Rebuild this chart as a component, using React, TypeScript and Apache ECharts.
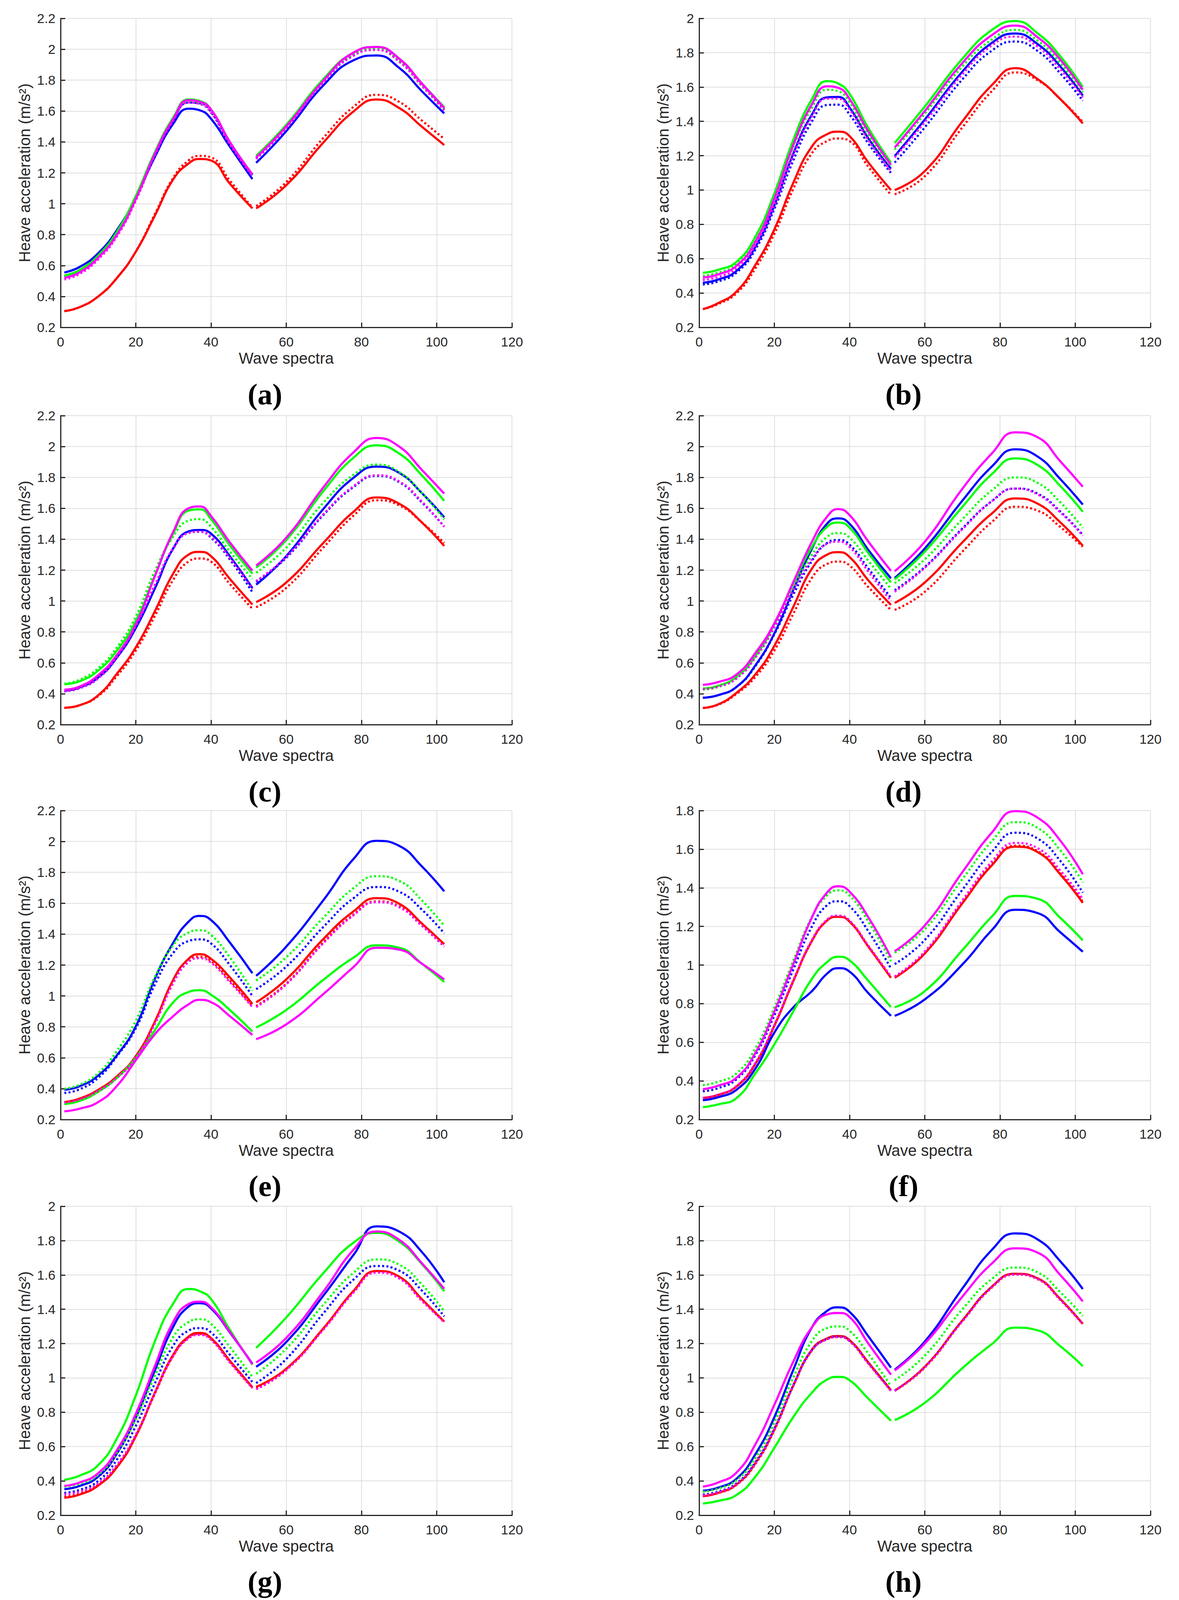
import React, { useEffect, useRef } from "react";
import * as echarts from "echarts";

// x positions (wave spectra index) where values were read, for the two segments
const X1 = [1, 5, 10, 15, 20, 25, 30, 34, 37, 40, 45, 51];
const X2 = [52, 60, 70, 78, 84, 90, 96, 102];

const LABELS = ["a", "b", "c", "d", "e", "f", "g", "h"];
const Y_MAX = [2.2, 2.0, 2.2, 2.2, 2.2, 1.8, 2.0, 2.0];
const Y_MIN = 0.2;
const Y_STEP = 0.2;
const X_MIN = 0;
const X_MAX = 120;
const X_STEP = 20;

// Panel (a)
const aRS = [[.305, .33, .40, .52, .69, .92, 1.16, 1.26, 1.29, 1.28, 1.13, .97], [.97, 1.12, 1.40, 1.60, 1.675, 1.62, 1.50, 1.38]];
const aRD = [[.305, .33, .40, .52, .69, .93, 1.17, 1.28, 1.31, 1.30, 1.15, .975], [.985, 1.14, 1.43, 1.63, 1.705, 1.66, 1.54, 1.42]];
const aBS = [[.555, .59, .68, .83, 1.04, 1.30, 1.52, 1.615, 1.605, 1.55, 1.37, 1.16], [1.265, 1.47, 1.77, 1.93, 1.96, 1.88, 1.73, 1.585]];
const aBD = [[.525, .56, .655, .81, 1.035, 1.315, 1.545, 1.655, 1.65, 1.595, 1.39, 1.185], [1.295, 1.495, 1.795, 1.965, 2.0, 1.925, 1.77, 1.61]];
const aGS = [[.535, .57, .665, .82, 1.05, 1.33, 1.56, 1.675, 1.665, 1.61, 1.40, 1.19], [1.31, 1.51, 1.81, 1.98, 2.015, 1.94, 1.78, 1.625]];
const aGD = [[.53, .565, .66, .815, 1.04, 1.32, 1.55, 1.665, 1.655, 1.60, 1.39, 1.185], [1.30, 1.50, 1.80, 1.97, 2.005, 1.93, 1.77, 1.615]];
const aMS = [[.52, .555, .65, .80, 1.03, 1.32, 1.55, 1.67, 1.66, 1.61, 1.40, 1.19], [1.30, 1.50, 1.80, 1.98, 2.015, 1.94, 1.78, 1.62]];
const aMD = [[.51, .545, .64, .79, 1.02, 1.31, 1.54, 1.655, 1.645, 1.59, 1.385, 1.18], [1.29, 1.49, 1.79, 1.96, 1.995, 1.92, 1.765, 1.605]];

// Panel (b)
const bRS = [[.306, .34, .41, .565, .77, 1.04, 1.254, 1.325, 1.34, 1.314, 1.16, 1.0], [1.0, 1.11, 1.40, 1.615, 1.71, 1.646, 1.53, 1.388]];
const bRD = [[.306, .335, .40, .545, .745, 1.005, 1.215, 1.285, 1.30, 1.285, 1.135, .972], [.975, 1.08, 1.365, 1.58, 1.685, 1.64, 1.53, 1.397]];
const bBS = [[.46, .478, .53, .67, .91, 1.21, 1.44, 1.54, 1.542, 1.48, 1.30, 1.124], [1.198, 1.41, 1.69, 1.86, 1.912, 1.85, 1.72, 1.55]];
const bBD = [[.45, .467, .52, .655, .89, 1.17, 1.40, 1.495, 1.497, 1.44, 1.27, 1.10], [1.16, 1.365, 1.645, 1.815, 1.865, 1.81, 1.68, 1.52]];
const bGS = [[.518, .535, .583, .73, .98, 1.29, 1.53, 1.634, 1.62, 1.56, 1.36, 1.16], [1.274, 1.486, 1.765, 1.935, 1.984, 1.913, 1.78, 1.60]];
const bGD = [[.50, .518, .568, .705, .95, 1.25, 1.48, 1.584, 1.575, 1.51, 1.32, 1.14], [1.236, 1.445, 1.72, 1.88, 1.933, 1.87, 1.74, 1.57]];
const bMS = [[.49, .508, .56, .70, .95, 1.26, 1.50, 1.604, 1.595, 1.53, 1.34, 1.147], [1.248, 1.46, 1.74, 1.905, 1.958, 1.89, 1.76, 1.584]];
const bMD = [[.476, .493, .545, .68, .915, 1.20, 1.43, 1.533, 1.532, 1.47, 1.29, 1.11], [1.19, 1.395, 1.675, 1.845, 1.894, 1.835, 1.705, 1.54]];

// Panel (c)
const cRS = [[.309, .325, .39, .53, .70, .93, 1.18, 1.30, 1.318, 1.29, 1.143, .977], [.993, 1.12, 1.38, 1.58, 1.67, 1.63, 1.51, 1.356]];
const cRD = [[.309, .325, .385, .515, .68, .90, 1.14, 1.255, 1.275, 1.255, 1.11, .95], [.96, 1.085, 1.35, 1.555, 1.652, 1.62, 1.51, 1.376]];
const cBS = [[.42, .44, .505, .635, .825, 1.077, 1.343, 1.45, 1.46, 1.436, 1.29, 1.084], [1.106, 1.29, 1.60, 1.80, 1.87, 1.83, 1.70, 1.542]];
const cBD = [[.415, .435, .50, .635, .835, 1.09, 1.34, 1.44, 1.448, 1.41, 1.27, 1.057], [1.124, 1.28, 1.56, 1.74, 1.81, 1.77, 1.64, 1.482]];
const cGS = [[.462, .48, .55, .68, .87, 1.16, 1.44, 1.585, 1.593, 1.53, 1.36, 1.177], [1.217, 1.395, 1.715, 1.93, 2.008, 1.955, 1.815, 1.648]];
const cGD = [[.465, .49, .565, .70, .90, 1.19, 1.42, 1.52, 1.53, 1.48, 1.32, 1.143], [1.183, 1.345, 1.64, 1.82, 1.883, 1.835, 1.70, 1.529]];
const cMS = [[.426, .446, .52, .652, .85, 1.157, 1.45, 1.60, 1.612, 1.55, 1.38, 1.197], [1.23, 1.41, 1.74, 1.965, 2.055, 2.0, 1.85, 1.695]];
const cMD = [[.415, .435, .50, .64, .84, 1.10, 1.345, 1.44, 1.449, 1.415, 1.28, 1.077], [1.13, 1.285, 1.565, 1.745, 1.814, 1.775, 1.645, 1.48]];

// Panel (d)
const dRS = [[.308, .33, .407, .526, .71, .96, 1.21, 1.30, 1.316, 1.285, 1.133, .975], [.988, 1.12, 1.38, 1.57, 1.664, 1.63, 1.51, 1.358]];
const dRD = [[.308, .328, .40, .51, .68, .915, 1.15, 1.24, 1.255, 1.23, 1.09, .942], [.942, 1.06, 1.32, 1.515, 1.61, 1.585, 1.48, 1.351]];
const dBS = [[.374, .39, .445, .585, .79, 1.07, 1.34, 1.50, 1.535, 1.50, 1.33, 1.147], [1.149, 1.34, 1.65, 1.875, 1.982, 1.935, 1.79, 1.624]];
const dBD = [[.374, .39, .445, .58, .785, 1.04, 1.26, 1.375, 1.395, 1.365, 1.21, 1.02], [1.07, 1.22, 1.47, 1.65, 1.728, 1.695, 1.58, 1.428]];
const dGS = [[.434, .45, .51, .645, .85, 1.11, 1.35, 1.48, 1.508, 1.475, 1.31, 1.12], [1.14, 1.32, 1.61, 1.825, 1.923, 1.88, 1.745, 1.578]];
const dGD = [[.427, .443, .50, .635, .83, 1.08, 1.30, 1.415, 1.44, 1.41, 1.26, 1.08], [1.116, 1.27, 1.53, 1.72, 1.80, 1.765, 1.64, 1.474]];
const dMS = [[.457, .475, .526, .665, .856, 1.12, 1.384, 1.545, 1.595, 1.556, 1.384, 1.195], [1.193, 1.384, 1.727, 1.96, 2.092, 2.06, 1.905, 1.74]];
const dMD = [[.43, .445, .50, .635, .83, 1.07, 1.27, 1.37, 1.384, 1.35, 1.19, 1.0], [1.06, 1.215, 1.465, 1.65, 1.728, 1.69, 1.575, 1.424]];

// Panel (e)
const eRS = [[.313, .335, .392, .48, .61, .83, 1.107, 1.24, 1.27, 1.24, 1.12, .948], [.959, 1.107, 1.372, 1.55, 1.633, 1.597, 1.47, 1.335]];
const eRD = [[.31, .33, .385, .47, .60, .82, 1.09, 1.225, 1.253, 1.225, 1.10, .935], [.935, 1.08, 1.35, 1.53, 1.612, 1.58, 1.46, 1.326]];
const eBS = [[.392, .415, .485, .617, .803, 1.107, 1.346, 1.48, 1.518, 1.491, 1.346, 1.147], [1.13, 1.319, 1.624, 1.89, 2.004, 1.972, 1.84, 1.677]];
const eBD = [[.372, .395, .47, .61, .79, 1.07, 1.28, 1.355, 1.366, 1.34, 1.20, 1.0], [1.044, 1.19, 1.45, 1.635, 1.705, 1.675, 1.56, 1.405]];
const eGS = [[.30, .32, .38, .47, .60, .776, .96, 1.025, 1.037, 1.008, .909, .77], [.796, .909, 1.107, 1.25, 1.328, 1.312, 1.21, 1.09]];
const eGD = [[.399, .425, .50, .645, .84, 1.12, 1.33, 1.41, 1.425, 1.395, 1.25, 1.034], [1.10, 1.25, 1.51, 1.70, 1.775, 1.745, 1.62, 1.454]];
const eMS = [[.253, .27, .313, .418, .584, .75, .87, .945, .975, .96, .869, .747], [.72, .816, 1.015, 1.19, 1.312, 1.30, 1.21, 1.107]];
const eMD = [[.31, .33, .385, .47, .60, .815, 1.085, 1.22, 1.244, 1.215, 1.09, .928], [.928, 1.075, 1.345, 1.525, 1.607, 1.575, 1.455, 1.319]];

// Panel (f)
const fRS = [[.312, .327, .372, .49, .685, .915, 1.125, 1.23, 1.25, 1.225, 1.095, .934], [.934, 1.06, 1.32, 1.52, 1.613, 1.585, 1.47, 1.322]];
const fRD = [[.312, .327, .372, .49, .685, .915, 1.127, 1.232, 1.253, 1.228, 1.098, .936], [.936, 1.063, 1.325, 1.525, 1.618, 1.59, 1.475, 1.327]];
const fBS = [[.30, .315, .355, .465, .65, .78, .865, .955, .984, .966, .854, .737], [.737, .822, 1.003, 1.185, 1.286, 1.269, 1.17, 1.069]];
const fBD = [[.346, .362, .41, .535, .74, .975, 1.20, 1.31, 1.33, 1.305, 1.175, .982], [1.005, 1.13, 1.39, 1.59, 1.685, 1.655, 1.54, 1.375]];
const fGS = [[.264, .278, .312, .44, .589, .759, .929, 1.015, 1.043, 1.024, .918, .782], [.782, .865, 1.077, 1.255, 1.358, 1.343, 1.245, 1.128]];
const fGD = [[.378, .395, .44, .57, .78, 1.02, 1.25, 1.36, 1.387, 1.36, 1.225, 1.019], [1.064, 1.185, 1.445, 1.645, 1.74, 1.71, 1.595, 1.428]];
const fMS = [[.357, .375, .418, .546, .759, 1.003, 1.247, 1.375, 1.408, 1.38, 1.247, 1.04], [1.072, 1.205, 1.481, 1.69, 1.797, 1.763, 1.645, 1.47]];
const fMD = [[.312, .328, .375, .495, .69, .92, 1.13, 1.235, 1.256, 1.23, 1.10, .941], [.941, 1.07, 1.335, 1.54, 1.632, 1.605, 1.49, 1.343]];

// Panel (g)
const gRS = [[.302, .32, .373, .48, .66, .91, 1.137, 1.24, 1.262, 1.232, 1.10, .946], [.948, 1.053, 1.292, 1.51, 1.623, 1.59, 1.46, 1.328]];
const gRD = [[.307, .325, .377, .485, .662, .905, 1.13, 1.235, 1.256, 1.227, 1.095, .943], [.94, 1.048, 1.288, 1.505, 1.617, 1.585, 1.455, 1.326]];
const gBS = [[.352, .37, .425, .56, .77, 1.04, 1.30, 1.415, 1.435, 1.405, 1.265, 1.083], [1.065, 1.209, 1.483, 1.72, 1.883, 1.853, 1.735, 1.557]];
const gBD = [[.331, .347, .40, .525, .72, .965, 1.19, 1.275, 1.29, 1.265, 1.135, .976], [.97, 1.11, 1.38, 1.575, 1.652, 1.625, 1.51, 1.358]];
const gGS = [[.407, .43, .492, .648, .898, 1.209, 1.435, 1.518, 1.505, 1.459, 1.28, 1.077], [1.175, 1.352, 1.614, 1.79, 1.845, 1.794, 1.665, 1.505]];
const gGD = [[.367, .383, .435, .565, .76, 1.01, 1.24, 1.325, 1.342, 1.315, 1.18, 1.006], [1.024, 1.17, 1.43, 1.615, 1.69, 1.66, 1.545, 1.388]];
const gMS = [[.371, .39, .445, .58, .79, 1.065, 1.328, 1.43, 1.444, 1.412, 1.268, 1.08], [1.09, 1.233, 1.507, 1.75, 1.853, 1.805, 1.67, 1.519]];
const gMD = [[.32, .337, .385, .495, .67, .91, 1.13, 1.23, 1.25, 1.222, 1.09, .94], [.934, 1.045, 1.285, 1.50, 1.613, 1.58, 1.45, 1.325]];

// Panel (h)
const hRS = [[.311, .33, .38, .505, .70, .955, 1.165, 1.23, 1.244, 1.22, 1.09, .929], [.926, 1.065, 1.335, 1.535, 1.607, 1.58, 1.46, 1.315]];
const hRD = [[.311, .328, .378, .50, .695, .95, 1.16, 1.225, 1.238, 1.215, 1.085, .925], [.924, 1.06, 1.33, 1.53, 1.602, 1.575, 1.455, 1.312]];
const hBS = [[.343, .36, .414, .557, .771, 1.045, 1.295, 1.39, 1.411, 1.385, 1.242, 1.06], [1.048, 1.212, 1.521, 1.75, 1.842, 1.807, 1.68, 1.518]];
const hBD = [[.32, .337, .387, .51, .705, .955, 1.162, 1.226, 1.24, 1.215, 1.085, .926], [.927, 1.063, 1.332, 1.532, 1.604, 1.577, 1.457, 1.314]];
const hGS = [[.268, .283, .319, .426, .593, .771, .914, .99, 1.006, .986, .879, .75], [.754, .855, 1.057, 1.20, 1.293, 1.277, 1.185, 1.069]];
const hGD = [[.337, .355, .405, .535, .74, 1.00, 1.215, 1.29, 1.30, 1.275, 1.14, .952], [.986, 1.13, 1.40, 1.58, 1.643, 1.615, 1.50, 1.361]];
const hMS = [[.367, .39, .45, .615, .843, 1.093, 1.295, 1.37, 1.378, 1.355, 1.20, 1.019], [1.043, 1.20, 1.474, 1.67, 1.755, 1.73, 1.60, 1.446]];
const hMD = [[.315, .332, .382, .505, .70, .952, 1.16, 1.225, 1.238, 1.214, 1.083, .924], [.925, 1.062, 1.33, 1.53, 1.603, 1.576, 1.456, 1.313]];

const PANELS = [
  [aRS, aRD, aBS, aBD, aGS, aGD, aMS, aMD],
  [bRS, bRD, bBS, bBD, bGS, bGD, bMS, bMD],
  [cRS, cRD, cBS, cBD, cGS, cGD, cMS, cMD],
  [dRS, dRD, dBS, dBD, dGS, dGD, dMS, dMD],
  [eRS, eRD, eBS, eBD, eGS, eGD, eMS, eMD],
  [fRS, fRD, fBS, fBD, fGS, fGD, fMS, fMD],
  [gRS, gRD, gBS, gBD, gGS, gGD, gMS, gMD],
  [hRS, hRD, hBS, hBD, hGS, hGD, hMS, hMD],
];

const CURVE_COLORS = ["#ff0000", "#ff0000", "#0000ff", "#0000ff", "#00ff00", "#00ff00", "#ff00ff", "#ff00ff"];
const CURVE_DOTTED = [false, true, false, true, false, true, false, true];

// layout in reference pixels (3017 x 4746); vertical positions are scaled to the window height
const W = 3017;
const REF_H = 4746;
const GRID_LEFT = [155, 1789];
const GRID_TOP = [55, 1233, 2404, 3578];
const GRID_W = 1155;
const GRID_H = 917;
const LABEL_DX = 523;
const LABEL_DY = 1114;
const XNAME_CENTER = 92; // distance below the x axis line to "Wave spectra" centre
const XLABEL_TOP = 30; // distance below the x axis line to tick label glyph top

const AX = "#262626";
const GRIDC = "#dedede";
const SANS = "Liberation Sans, Arial, sans-serif";

function getScale() {
  const vh = window.innerHeight || REF_H;
  return Math.min(1, vh / REF_H);
}

export default function App() {
  const ref = useRef<HTMLDivElement>(null);
  const sy = getScale();
  useEffect(() => {
    document.body.style.margin = "0";
    const chart = echarts.init(ref.current!, null, { renderer: "svg" });
    const grid: any[] = [];
    const xAxis: any[] = [];
    const yAxis: any[] = [];
    const series: any[] = [];
    const graphic: any[] = [];
    const tickFont = 34;
    const nameFont = 40;
    PANELS.forEach((curves, p) => {
      const col = p % 2;
      const row = Math.floor(p / 2);
      const left = GRID_LEFT[col];
      const top = Math.round(GRID_TOP[row] * sy);
      const height = Math.round(GRID_H * sy);
      grid.push({ left, top, width: GRID_W, height, containLabel: false });
      xAxis.push({
        type: "value",
        gridIndex: p,
        min: X_MIN,
        max: X_MAX,
        interval: X_STEP,
        name: "Wave spectra",
        nameLocation: "middle",
        nameGap: Math.round(XNAME_CENTER * sy - nameFont / 2),
        nameTextStyle: { fontSize: nameFont, color: AX, fontFamily: SANS },
        axisLine: { show: true, onZero: false, lineStyle: { color: AX, width: 3 } },
        axisTick: { show: true, inside: true, length: 12, lineStyle: { color: AX, width: 3 } },
        axisLabel: { fontSize: tickFont, color: AX, fontFamily: SANS, margin: Math.round(XLABEL_TOP * sy - 6) },
        splitLine: { show: true, lineStyle: { color: GRIDC, width: 2 } },
      });
      yAxis.push({
        type: "value",
        gridIndex: p,
        min: Y_MIN,
        max: Y_MAX[p],
        interval: Y_STEP,
        name: "Heave acceleration (m/s²)",
        nameLocation: "middle",
        nameGap: 72,
        nameRotate: 90,
        nameTextStyle: { fontSize: nameFont, color: AX, fontFamily: SANS },
        axisLine: { show: true, onZero: false, lineStyle: { color: AX, width: 3 } },
        axisTick: { show: true, inside: true, length: 12, lineStyle: { color: AX, width: 3 } },
        axisLabel: {
          fontSize: tickFont,
          color: AX,
          fontFamily: SANS,
          margin: 13,
          formatter: (v: number) => String(Math.round(v * 10) / 10),
        },
        splitLine: { show: true, lineStyle: { color: GRIDC, width: 2 } },
      });
      curves.forEach((curve, c) => {
        [X1, X2].forEach((xs, s) => {
          series.push({
            type: "line",
            xAxisIndex: p,
            yAxisIndex: p,
            data: xs.map((x, i) => [x, curve[s][i]]),
            smooth: 0.5,
            showSymbol: false,
            symbol: "none",
            silent: true,
            z: 2 + c,
            lineStyle: {
              color: CURVE_COLORS[c],
              width: 5.5,
              type: CURVE_DOTTED[c] ? [5, 6] : "solid",
              cap: "butt",
            },
          });
        });
      });
      graphic.push({
        type: "text",
        x: left + LABEL_DX,
        y: Math.round((GRID_TOP[row] + LABEL_DY) * sy),
        style: {
          text: "(" + LABELS[p] + ")",
          fontSize: 76,
          fontFamily: "Liberation Serif, Times New Roman, serif",
          fontWeight: "bold",
          fill: "#000000",
          align: "center",
          verticalAlign: "middle",
        },
      });
    });
    chart.setOption({
      animation: false,
      backgroundColor: "#ffffff",
      grid,
      xAxis,
      yAxis,
      series,
      graphic,
    });
    return () => chart.dispose();
  }, []);
  return (
    <div
      ref={ref}
      style={{ width: W, height: Math.floor(REF_H * sy), position: "absolute", left: 0, top: 0 }}
    />
  );
}
